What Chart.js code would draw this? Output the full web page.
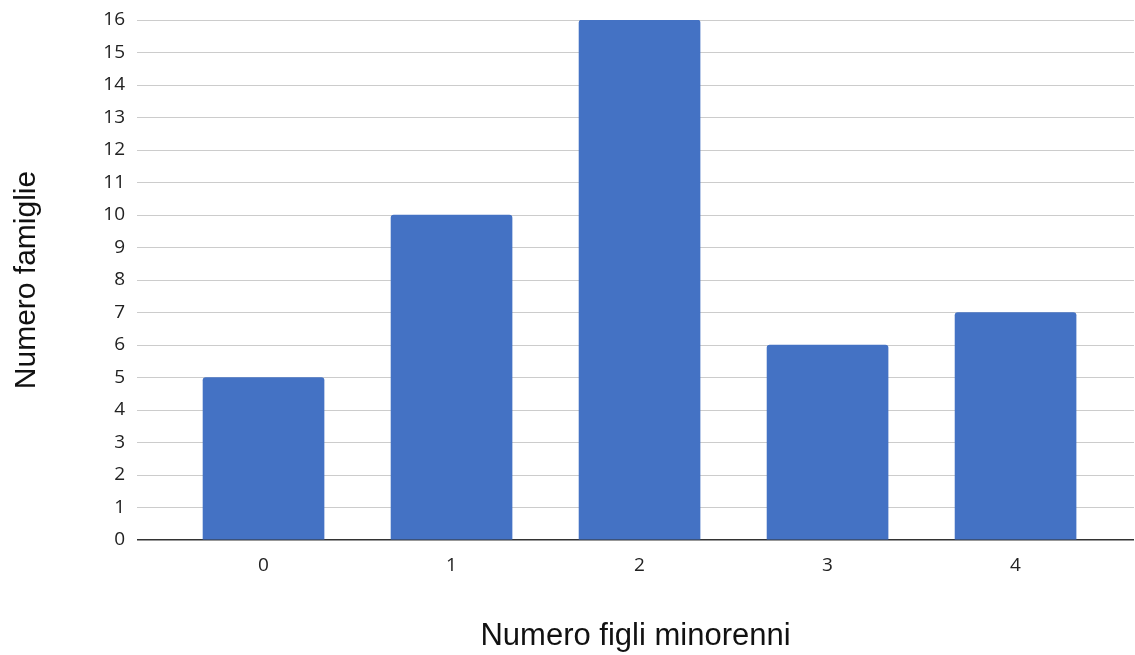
<!DOCTYPE html>
<html>
<head>
<meta charset="utf-8">
<script src="https://cdn.jsdelivr.net/npm/chart.js@4"></script>
<style>
  html, body { margin: 0; padding: 0; background: #fff; }
  #wrap { width: 1135px; height: 655px; }
</style>
</head>
<body>
<div id="wrap"><canvas id="grafico"></canvas></div>
<script>
// dati
const categorie = ['0', '1', '2', '3', '4'];
const famiglie = [5, 10, 16, 6, 7];
const tickY = [0, 1, 2, 3, 4, 5, 6, 7, 8, 9, 10, 11, 12, 13, 14, 15, 16];

const punti = famiglie.map((v, i) => ({ x: i, y: v }));

const ctx = document.getElementById('grafico').getContext('2d');
new Chart(ctx, {
  type: 'bar',
  data: {
    datasets: [{
      data: punti,
      backgroundColor: '#4472C4',
      barThickness: 121,
      borderRadius: { topLeft: 3, topRight: 3 },
      borderSkipped: 'bottom'
    }]
  },
  options: {
    responsive: true,
    maintainAspectRatio: false,
    animation: false,
    layout: { padding: { top: 20, right: 1, left: 0, bottom: 0 } },
    plugins: { legend: { display: false }, tooltip: { enabled: false } },
    scales: {
      x: {
        type: 'linear',
        offset: false,
        min: -0.673,
        max: 4.63,
        afterBuildTicks: (scale) => {
          scale.ticks = categorie.map((c, i) => ({ value: i }));
        },
        afterFit: (scale) => { scale.height = 115; },
        grid: { display: false },
        border: { display: false },
        ticks: {
          padding: 6,
          color: '#222',
          font: { family: '"Open Sans", sans-serif', size: 19 },
          callback: (v) => categorie[v]
        },
        title: {
          display: true,
          text: 'Numero figli minorenni',
          color: '#111',
          font: { family: '"Liberation Sans", Arial, sans-serif', size: 31 },
          padding: { top: 0, bottom: 0 }
        }
      },
      y: {
        min: 0,
        max: 16,
        afterBuildTicks: (scale) => {
          scale.ticks = tickY.map(v => ({ value: v }));
        },
        afterFit: (scale) => { scale.width = 137; scale.paddingTop = 0; },
        grid: {
          drawTicks: false,
          color: (c) => c.tick && c.tick.value === 0 ? '#333' : '#cccccc',
          lineWidth: (c) => c.tick && c.tick.value === 0 ? 1.5 : 1
        },
        border: { display: false },
        ticks: {
          padding: 12,
          color: '#222',
          font: { family: '"Open Sans", sans-serif', size: 19 }
        },
        title: {
          display: true,
          text: 'Numero famiglie',
          color: '#111',
          font: { family: '"Liberation Sans", Arial, sans-serif', size: 30 },
          padding: { top: 9, bottom: 0 }
        }
      }
    }
  }
});
</script>
</body>
</html>
